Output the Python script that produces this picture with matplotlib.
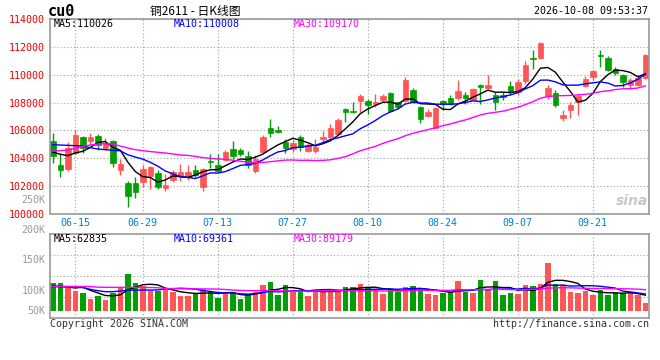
import numpy as np
import pandas as pd
import matplotlib
matplotlib.use("Agg")
import matplotlib.pyplot as plt

# trading days shown (06-10 .. 09-30)
dates = ["06-10", "06-11", "06-12", "06-15", "06-16", "06-17", "06-18", "06-22",
         "06-23", "06-24", "06-25", "06-26", "06-29", "06-30", "07-01", "07-02",
         "07-03", "07-06", "07-07", "07-08", "07-09", "07-10", "07-13", "07-14",
         "07-15", "07-16", "07-17", "07-20", "07-21", "07-22", "07-23", "07-24",
         "07-27", "07-28", "07-29", "07-30", "07-31", "08-03", "08-04", "08-05",
         "08-06", "08-07", "08-10", "08-11", "08-12", "08-13", "08-14", "08-17",
         "08-18", "08-19", "08-20", "08-21", "08-24", "08-25", "08-26", "08-27",
         "08-28", "08-31", "09-01", "09-02", "09-03", "09-04", "09-07", "09-08",
         "09-09", "09-10", "09-11", "09-14", "09-15", "09-16", "09-17", "09-18",
         "09-21", "09-22", "09-23", "09-24", "09-25", "09-28", "09-29", "09-30"]
tick_dates = ["06-15", "06-29", "07-13", "07-27", "08-10", "08-24", "09-07", "09-21"]

opens = [105262, 103548, 103262, 104381, 105524, 105214, 105619, 104714, 105262, 103143,
         102238, 102238, 102286, 102714, 102952, 101857, 102476, 102667, 102643, 103190,
         101952, 103833, 103548, 103905, 104690, 104619, 104190, 103117, 104479, 106152,
         106033, 105196, 104646, 105507, 104551, 104551, 105387, 105507, 105746, 107538,
         107371, 108112, 108112, 107873, 108184, 108662, 108016, 108136, 108901, 107706,
         107060, 106200, 108112, 108333, 108333, 108524, 108214, 109238, 109071, 108524,
         108524, 109167, 108762, 109548, 111214, 111190, 108476, 108714, 106905, 107452,
         108048, 109190, 109833, 111429, 111214, 110429, 110000, 109238, 109286, 109762]
highs = [105810, 104381, 105143, 106048, 105619, 105810, 105738, 105452, 105333, 103952,
         102357, 102667, 103548, 103429, 103190, 102905, 103190, 103619, 103524, 103548,
         103310, 104333, 104333, 104619, 105214, 104738, 104548, 104240, 105674, 106797,
         106319, 105363, 105363, 105674, 105077, 105363, 105985, 106463, 106917, 107634,
         108064, 108590, 108231, 108590, 108590, 108781, 108064, 109857, 109020, 107777,
         107514, 107658, 108184, 108571, 109595, 108762, 109048, 109357, 110000, 108762,
         108762, 109524, 109667, 110952, 111810, 112381, 109238, 108881, 107452, 108048,
         108643, 109905, 110357, 111810, 111333, 110548, 110071, 109762, 109952, 111452]
lows = [103667, 102643, 103071, 104262, 104381, 104976, 104619, 104619, 103357, 102833,
        100500, 101143, 101952, 101810, 101762, 101643, 102286, 102357, 102476, 102667,
        101643, 103310, 103071, 103786, 103976, 104143, 103310, 102973, 104360, 105555,
        105841, 104360, 104479, 104551, 104479, 104360, 105196, 105363, 105674, 106630,
        107228, 107347, 107156, 107706, 108016, 107347, 107538, 108064, 107945, 106558,
        106989, 106080, 107466, 107810, 108167, 107929, 108167, 107929, 109000, 107452,
        108167, 108571, 108571, 109357, 110381, 111095, 108238, 107690, 106667, 106905,
        107095, 109119, 109595, 110548, 110238, 110000, 109119, 108952, 109190, 109714]
closes = [104143, 103190, 104738, 105690, 104738, 105524, 104976, 105095, 103667, 103619,
          101286, 101571, 103262, 103381, 101952, 102048, 103024, 103048, 103048, 102810,
          103238, 103714, 103119, 104429, 104143, 104333, 103548, 103929, 105555, 105841,
          105913, 104766, 105124, 104838, 104957, 104790, 105507, 106152, 106750, 107347,
          107299, 108470, 107825, 108016, 108470, 107419, 107706, 109618, 108064, 106797,
          107299, 107586, 107873, 107929, 108810, 108333, 108952, 109095, 109286, 108048,
          108381, 108762, 109476, 110667, 111143, 112262, 109048, 107810, 107095, 107810,
          108452, 109667, 110238, 111333, 110310, 110119, 109476, 109595, 109762, 111381]
volumes = [114800, 114800, 98400, 82000, 73800, 49200, 61500, 45100, 73800, 94300,
           150400, 114800, 99800, 82000, 82000, 84800, 77900, 61500, 61500, 68400,
           90200, 82000, 53300, 73800, 72500, 49200, 68400, 77900, 106600, 118900,
           65600, 105300, 76600, 82000, 61500, 84800, 84800, 82000, 82000, 97100,
           97100, 109400, 93000, 84800, 68400, 88900, 76600, 97100, 101200, 93000,
           68400, 64200, 73800, 73800, 121700, 76600, 72500, 125800, 90200, 121700,
           64200, 72500, 68400, 105300, 101200, 109400, 196800, 109400, 105300, 76600,
           72500, 80700, 64200, 84800, 64200, 72500, 72500, 76600, 64200, 32800]

# moving-average values read off the chart where earlier history is not shown
ma5_head = [104452, 104286, 104190, 104381]
ma10_head = [104976, 104952, 104929, 104905, 104881, 104760, 104667, 104619, 104571]
ma30_head = [104524, 104548, 104595, 104714, 104857, 104952, 105024, 105048, 105000, 104880,
             104740, 104620, 104550, 104480, 104430, 104380, 104310, 104240, 104210, 104140,
             104050, 104000, 103950, 103930, 103860, 103790, 103720, 103680, 103700]
vma5_head = [101200, 99800, 97100, 93000]
vma10_head = [98400, 98400, 98400, 97100, 94300, 87500, 82000, 77900, 77900]
vma30_head = [99800, 99800, 99800, 99500, 99300, 99000, 96500, 95900, 95700, 95700,
              95700, 95500, 95300, 95000, 94000, 91000, 90200, 89800, 89500, 89500,
              89300, 89000, 88500, 87000, 84500, 83000, 82300, 82000, 81800]

price_ma_text = ["MA5:110026", "MA10:110008", "MA30:109170"]
vol_ma_text = ["MA5:62835", "MA10:69361", "MA30:89179"]
vol_labels = ["250K", "200K", "150K", "100K", "50K"]


def moving(values, n, head):
    s = pd.Series(values, dtype=float).rolling(n).mean()
    s.iloc[:len(head)] = head
    return s.values


RED = "#FF5555"
GREEN = "#00A000"
GRID = "#A0A0A0"
BORDER = "#999999"
MONO = "DejaVu Sans Mono"
ma_colors = ["black", "#0000FF", "#FF00FF"]

x = np.arange(len(dates))
o = np.array(opens)
c = np.array(closes)
up = c >= o
colors = [RED if u else GREEN for u in up]

W, H = 660, 360
fig = plt.figure(figsize=(6.6, 3.6), dpi=100)


def px_axes(l, t, r, b):
    return fig.add_axes([l / W, 1 - b / H, (r - l) / W, (b - t) / H])


ax = px_axes(50, 19, 649, 214)
vax = px_axes(50, 234.3, 649, 317.5)

ticks = [dates.index(d) for d in tick_dates]
for a in (ax, vax):
    a.set_xlim(-0.37, len(dates) - 0.51)
    for sp in a.spines.values():
        sp.set_color(BORDER)
        sp.set_linewidth(1.2)
    a.set_xticks(ticks)
    a.grid(True, color=GRID, linestyle=(0, (1, 2)), linewidth=0.8)
    a.set_axisbelow(True)
    a.tick_params(length=0)

# candles
ax.vlines(x, lows, highs, colors=colors, linewidth=1)
body_lo = np.minimum(o, c)
body_h = np.maximum(np.abs(c - o), 40)
ax.bar(x, body_h, bottom=body_lo, width=0.74, color=colors, edgecolor=colors, linewidth=0.5)

for n, head, col in zip([5, 10, 30], [ma5_head, ma10_head, ma30_head], ma_colors):
    ax.plot(x, moving(closes, n, head), color=col, linewidth=1.0)

ax.set_ylim(100000, 113930)
ax.set_yticks(range(100000, 114001, 2000))
ax.set_yticklabels([str(v) for v in range(100000, 114001, 2000)],
                   color="#EE0000", fontsize=7.2, family=MONO)
ax.tick_params(axis="y", pad=3.5)
ax.set_xticklabels(tick_dates, color="#0080D0", fontsize=7.2, family=MONO)
ax.tick_params(axis="x", pad=3)

# volume
vax.bar(x, volumes, width=0.74, color=colors)
for n, head, col in zip([5, 10, 30], [vma5_head, vma10_head, vma30_head], ma_colors):
    vax.plot(x, moving(volumes, n, head), color=col, linewidth=1.0)
vlo, vhi = -28000, 313300
vax.set_ylim(vlo, vhi)
vax.set_yticks([vlo + (vhi - vlo) * f for f in (0.25, 0.5, 0.75)])
vax.set_yticklabels([])
vax.set_xticklabels([])

# volume axis labels as drawn on the chart
for lab, ypx in zip(vol_labels, [200, 230, 260, 290.7, 311]):
    fig.text(45.7 / W, 1 - ypx / H, lab, ha="right", va="center",
             color="#999999", fontsize=7.2, family=MONO)

# header texts
for txt, xpx, col in zip(price_ma_text, [54, 174, 294], ma_colors):
    fig.text(xpx / W, 1 - 24 / H, txt, ha="left", va="center", color=col,
             fontsize=7.2, family=MONO)
for txt, xpx, col in zip(vol_ma_text, [54, 174, 294], ma_colors):
    fig.text(xpx / W, 1 - 239 / H, txt, ha="left", va="center", color=col,
             fontsize=7.2, family=MONO)

fig.text(48 / W, 1 - 11.5 / H, "cu0", ha="left", va="center", color="black",
         fontsize=11, family=MONO, fontweight="bold")
fig.text(195 / W, 1 - 11 / H, "铜2611 - 日K线图", ha="center", va="center", color="black",
         fontsize=8.5, family=["Noto Sans CJK SC", "DejaVu Sans"])
fig.text(648 / W, 1 - 11.5 / H, "2026-10-08 09:53:37", ha="right", va="center",
         color="black", fontsize=7.2, family=MONO)
fig.text(50 / W, 1 - 324 / H, "Copyright 2026 SINA.COM", ha="left", va="center",
         color="#333333", fontsize=7.2, family=MONO)
fig.text(649 / W, 1 - 324 / H, "http://finance.sina.com.cn", ha="right", va="center",
         color="#333333", fontsize=7.2, family=MONO)
fig.text(648 / W, 1 - 201 / H, "sina", ha="right", va="center", color="#C8C8C8",
         fontsize=10, fontweight="bold", style="italic")

fig.savefig("out.png", dpi=100)
